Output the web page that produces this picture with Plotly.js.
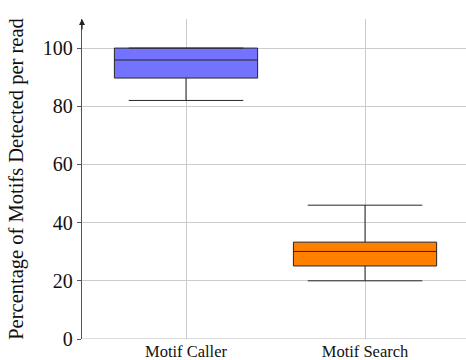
<!DOCTYPE html>
<html>
<head>
<meta charset="utf-8">
<script src="https://cdn.plot.ly/plotly-3.0.1.min.js"></script>
<style>
  html, body { margin: 0; padding: 0; background: #fff; }
  #chart { width: 466px; height: 360px; }
</style>
</head>
<body>
<div id="chart"></div>
<script>
// Per-read motif detection percentages, summarised as box statistics
const methods = ['Motif Caller', 'Motif Search'];
const lowerWhisker = [82, 20];
const q1 = [89.7, 25.1];
const median = [95.9, 30.1];
const q3 = [100, 33.3];
const upperWhisker = [100, 46];
const fills = ['rgb(115,115,255)', 'rgb(255,128,0)'];

const yTicks = [0, 20, 40, 60, 80, 100];

const traces = methods.map((m, i) => ({
  type: 'box',
  x: [m],
  q1: [q1[i]],
  median: [median[i]],
  q3: [q3[i]],
  lowerfence: [lowerWhisker[i]],
  upperfence: [upperWhisker[i]],
  boxpoints: false,
  width: 0.8,
  whiskerwidth: 0.8,
  fillcolor: fills[i],
  line: { color: '#262626', width: 1 },
  hoverinfo: 'skip',
  showlegend: false
}));

const serif = '"Liberation Serif", "DejaVu Serif", serif';

const layout = {
  width: 466,
  height: 360,
  margin: { l: 82, r: 0, t: 19, b: 21 },
  paper_bgcolor: '#fff',
  plot_bgcolor: '#fff',
  font: { family: serif, color: '#111' },
  xaxis: {
    type: 'category',
    categoryarray: methods,
    range: [-0.581, 1.564],
    showgrid: true,
    gridcolor: '#cccccc',
    gridwidth: 1,
    zeroline: false,
    showline: false,
    ticks: '',
    tickfont: { size: 16.5, family: serif, color: '#111' },
    fixedrange: true
  },
  yaxis: {
    range: [0, 110],
    tickvals: yTicks,
    ticktext: yTicks.map(String),
    showgrid: true,
    gridcolor: '#cccccc',
    gridwidth: 1,
    zeroline: false,
    showline: true,
    linecolor: '#555',
    linewidth: 1.3,
    ticks: 'outside',
    ticklen: 4,
    tickcolor: '#555',
    tickfont: { size: 20, family: serif, color: '#111' },
    title: {
      text: 'Percentage of Motifs Detected per read',
      font: { size: 20.5, family: serif, color: '#111' },
      standoff: 13
    },
    fixedrange: true
  },
  shapes: [{
    type: 'line', xref: 'paper', yref: 'y',
    x0: 0, x1: 1, y0: 0, y1: 0,
    line: { color: '#bbbbbb', width: 1 }
  }],
  annotations: [{
    xref: 'paper', yref: 'y',
    x: 0, y: 110,
    ax: 0, ay: 12,
    text: '',
    showarrow: true,
    arrowhead: 2,
    arrowsize: 1,
    arrowwidth: 1.2,
    arrowcolor: '#222'
  }]
};

Plotly.newPlot('chart', traces, layout, { displayModeBar: false, staticPlot: true });
</script>
</body>
</html>
